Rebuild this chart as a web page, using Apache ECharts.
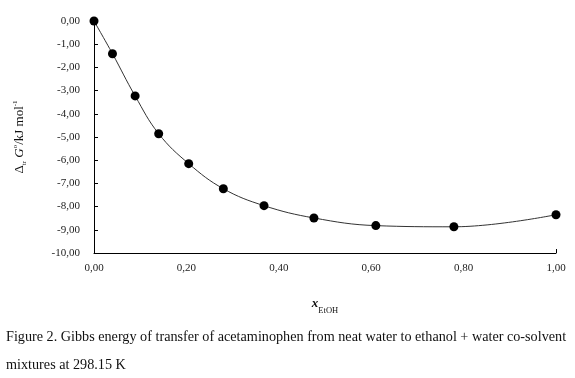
<!DOCTYPE html>
<html>
<head>
<meta charset="utf-8">
<script src="https://cdn.jsdelivr.net/npm/echarts@6/dist/echarts.min.js"></script>
<style>html,body{margin:0;padding:0;background:#fff}#c{width:575px;height:378px}</style>
</head>
<body>
<div id="c"></div>
<script>
// Data
var xEtOH = [0.00, 0.040, 0.089, 0.140, 0.205, 0.280, 0.368, 0.476, 0.610, 0.779, 1.000];
var dG = [0.00, -1.41, -3.23, -4.86, -6.15, -7.23, -7.96, -8.49, -8.82, -8.87, -8.35];
var captionLines = [
  "Figure 2. Gibbs energy of transfer of acetaminophen from neat water to ethanol + water co-solvent",
  "mixtures at 298.15 K"
];

var pts = xEtOH.map(function (x, i) { return [x, dG[i]]; });
var serif = '"Liberation Serif", "DejaVu Serif", serif';
function fmt(v) { return v.toFixed(2).replace('.', ','); }

var chart = echarts.init(document.getElementById('c'), null, { renderer: 'canvas' });
chart.setOption({
  animation: false,
  backgroundColor: '#fff',
  grid: { left: 94, right: 19, top: 21, bottom: 125 },
  xAxis: [{
    type: 'value', min: 0, max: 1, interval: 0.2,
    axisLine: { show: true, onZero: false, lineStyle: { color: '#000', width: 1 } },
    axisTick: { show: false },
    splitLine: { show: false },
    axisLabel: { formatter: fmt, color: '#222', fontFamily: serif, fontSize: 11, margin: 10 },
    name: '{x|x}{s|EtOH}',
    nameLocation: 'middle',
    nameGap: 44,
    nameTextStyle: {
      rich: {
        x: { fontFamily: serif, fontStyle: 'italic', fontWeight: 'bold', fontSize: 13, color: '#111', lineHeight: 18, verticalAlign: 'top' },
        s: { fontFamily: serif, fontSize: 8.5, color: '#111', lineHeight: 18, verticalAlign: 'bottom' }
      }
    }
  }, {
    type: 'value', min: 0, max: 1, interval: 1, position: 'bottom',
    axisLine: { show: false, onZero: false },
    axisTick: { show: true, inside: true, length: 4, lineStyle: { color: '#000' } },
    axisLabel: { show: false },
    splitLine: { show: false }
  }],
  yAxis: {
    type: 'value', min: -10, max: 0, interval: 1,
    axisLine: { show: true, onZero: false, lineStyle: { color: '#000', width: 1 } },
    axisTick: { show: true, inside: true, length: 4, lineStyle: { color: '#000' } },
    splitLine: { show: false },
    axisLabel: { formatter: fmt, color: '#222', fontFamily: serif, fontSize: 11, margin: 14 },
    name: '{n|Δ}{s|tr}{n| }{i|G}{p|o}{n|/kJ mol}{p|-1}',
    nameLocation: 'middle',
    nameRotate: 90,
    nameGap: 66,
    nameTextStyle: {
      rich: {
        n: { fontFamily: serif, fontSize: 13, color: '#111', lineHeight: 16 },
        i: { fontFamily: serif, fontSize: 13, fontStyle: 'italic', color: '#111', lineHeight: 16 },
        s: { fontFamily: serif, fontSize: 7, color: '#111', lineHeight: 16, verticalAlign: 'bottom' },
        p: { fontFamily: serif, fontSize: 7, color: '#111', lineHeight: 16, verticalAlign: 'top' }
      }
    }
  },
  series: [{
    type: 'line',
    data: pts,
    smooth: 0.4,
    symbol: 'circle',
    symbolSize: 9,
    itemStyle: { color: '#000' },
    lineStyle: { color: '#333', width: 1 }
  }],
  graphic: captionLines.map(function (t, i) {
    return {
      type: 'text', left: 6, top: 330 + i * 28,
      style: { text: t, font: '14.2px ' + serif, fill: '#111' }
    };
  })
});
</script>
</body>
</html>
